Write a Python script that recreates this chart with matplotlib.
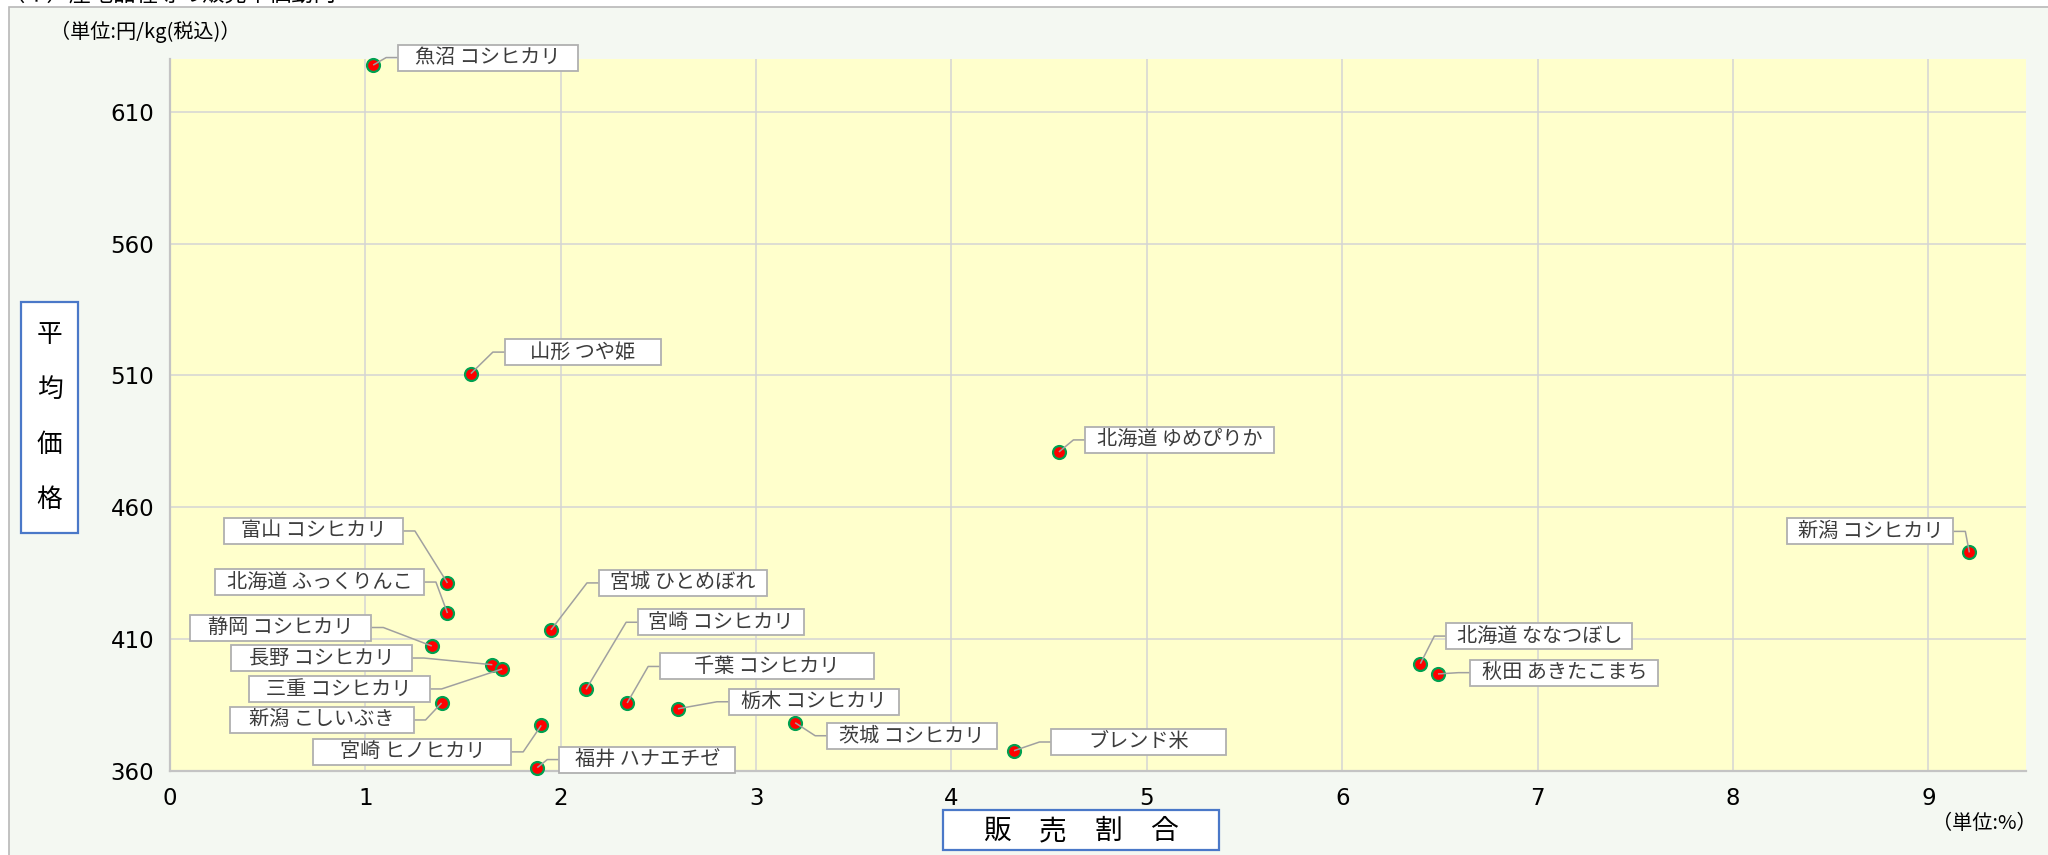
import matplotlib
matplotlib.use('Agg')
import matplotlib.pyplot as plt
from matplotlib.patches import Rectangle

# ---------------- data ----------------
names = ['魚沼 コシヒカリ', '山形 つや姫', '北海道 ゆめぴりか', '新潟 コシヒカリ',
         '富山 コシヒカリ', '北海道 ふっくりんこ', '宮城 ひとめぼれ', '静岡 コシヒカリ',
         '長野 コシヒカリ', '三重 コシヒカリ', '宮崎 コシヒカリ', '千葉 コシヒカリ',
         '新潟 こしいぶき', '栃木 コシヒカリ', '茨城 コシヒカリ', '宮崎 ヒノヒカリ',
         'ブレンド米', '福井 ハナエチゼ', '北海道 ななつぼし', '秋田 あきたこまち']
share = [1.04, 1.54, 4.55, 9.21, 1.42, 1.42, 1.95, 1.34, 1.65, 1.70,
         2.13, 2.34, 1.39, 2.60, 3.20, 1.90, 4.32, 1.88, 6.40, 6.49]
price = [627.7, 510.7, 481.0, 442.9, 431.3, 419.9, 413.5, 407.4, 400.3, 398.7,
         391.0, 385.8, 385.8, 383.6, 378.3, 377.3, 367.7, 361.3, 400.7, 396.8]

x_ticks = [0, 1, 2, 3, 4, 5, 6, 7, 8, 9]
y_ticks = [360, 410, 460, 510, 560, 610]

title_text = '（イ）産地品種等の販売単価動向'
y_unit = '（単位:円/kg(税込)）'
x_unit = '（単位:%）'
y_label = '平均価格'
x_label = '販売割合'

# ---------------- layout (label box offsets in px: dx right, dy down, width, side) -------------
label_layout = [
    (115, -7.5, 180, 'l'), (112, -21.5, 156, 'l'), (121, -12, 189, 'l'), (-99, -21, 166, 'r'),
    (-134, -52, 179, 'r'), (-128, -31, 209, 'r'), (132, -47, 168, 'l'), (-151, -18.5, 181, 'r'),
    (-171, -6.7, 181, 'r'), (-163, 20, 181, 'r'), (135, -67, 166, 'l'), (140, -36.5, 214, 'l'),
    (-120, 17, 184, 'r'), (136, -7, 170, 'l'), (117, 13, 170, 'l'), (-129, 26.5, 198, 'r'),
    (125, -8.7, 175, 'l'), (110, -8, 176, 'l'), (119, -27.6, 186, 'l'), (126.5, -1.3, 188, 'l'),
]
BOX_H = 26
STUB = 12

JP = ['Noto Sans CJK JP', 'DejaVu Sans']
W, H = 2048, 855

fig = plt.figure(figsize=(W / 100, H / 100), dpi=100, facecolor='white')

# background panel with grey border
fig.patches.append(Rectangle((9 / W, -0.05), 1.05, (H - 7) / H + 0.05,
                             transform=fig.transFigure, facecolor='#f4f8f2',
                             edgecolor='#b8b8b8', linewidth=1.2, zorder=-10))

ax = fig.add_axes([170 / W, (H - 771) / H, (2026 - 170) / W, (771 - 59) / H])
ax.set_zorder(1)
ax.set_facecolor('#ffffcc')
ax.set_xlim(0, 9.5)
ax.set_ylim(360, 630)
ax.set_xticks(x_ticks)
ax.set_yticks(y_ticks)
ax.grid(True, color='#d4d4d4', linewidth=1.1, zorder=0)
ax.set_axisbelow(True)
for s in ['top', 'right']:
    ax.spines[s].set_visible(False)
for s in ['left', 'bottom']:
    ax.spines[s].set_color('#c4c4c4')
    ax.spines[s].set_linewidth(1.6)
ax.tick_params(axis='both', length=0, labelsize=16.5, colors='black')
ax.tick_params(axis='x', pad=11.5)
ax.tick_params(axis='y', pad=11.5)
for lab in ax.get_xticklabels() + ax.get_yticklabels():
    lab.set_fontfamily('DejaVu Sans')

# points
ax.scatter(share, price, s=9.3 ** 2, c='#ff0000', edgecolors='#00a050',
           linewidths=1.6, zorder=3, clip_on=False)

inv = ax.transData.inverted()
for name, x, y, (dx, dy, bw, side) in zip(names, share, price, label_layout):
    px, py = ax.transData.transform((x, y))
    cx, cy = px + dx, py - dy
    left, right = cx - bw / 2, cx + bw / 2
    bottom, top = cy - BOX_H / 2, cy + BOX_H / 2
    (dl, db) = inv.transform((left, bottom))
    (dr, dt) = inv.transform((right, top))
    ax.add_patch(Rectangle((dl, db), dr - dl, dt - db, facecolor='white',
                           edgecolor='#b0b0b0', linewidth=1.3, zorder=5, clip_on=False))
    tcx, tcy = inv.transform((cx, cy))
    ax.text(tcx, tcy, name, ha='center', va='center', fontsize=14.5, color='#3c3c3c',
            family=JP, zorder=6, clip_on=False)
    if side == 'l':
        ex, attach = left - STUB, left
    else:
        ex, attach = right + STUB, right
    pts = inv.transform([(px, py), (ex, cy), (attach, cy)])
    ax.plot(pts[:, 0], pts[:, 1], color='#a0a0a0', linewidth=1.1, zorder=4,
            solid_capstyle='butt', clip_on=False)

# title (cut at top edge, as in the original)
fig.text(2 / W, 1 + 6 / H, title_text, ha='left', va='center', fontsize=16,
         family=JP, color='black')

# unit texts
fig.text(50 / W, 1 - 32 / H, y_unit, ha='left', va='center', fontsize=14.5,
         family=JP, color='black')
fig.text(2037 / W, 1 - 823 / H, x_unit, ha='right', va='center', fontsize=14.5,
         family=JP, color='black')

# y label box
fig.patches.append(Rectangle((21 / W, 1 - 533 / H), 57 / W, 231 / H,
                             transform=fig.transFigure, facecolor='white',
                             edgecolor='#4a78c8', linewidth=1.6, zorder=2))
for i, ch in enumerate(y_label):
    fig.text(49.5 / W, 1 - (335 + 55 * i) / H, ch, ha='center', va='center',
             fontsize=18.5, family=JP, color='black', zorder=3)

# x label box
fig.patches.append(Rectangle((943 / W, 1 - 850 / H), 276 / W, 40 / H,
                             transform=fig.transFigure, facecolor='white',
                             edgecolor='#4a78c8', linewidth=1.6, zorder=2))
for i, ch in enumerate(x_label):
    fig.text((997 + 55.5 * i) / W, 1 - 831 / H, ch, ha='center', va='center',
             fontsize=20, family=JP, color='black', zorder=3)

fig.savefig('out.png', dpi=100, facecolor=fig.get_facecolor())
